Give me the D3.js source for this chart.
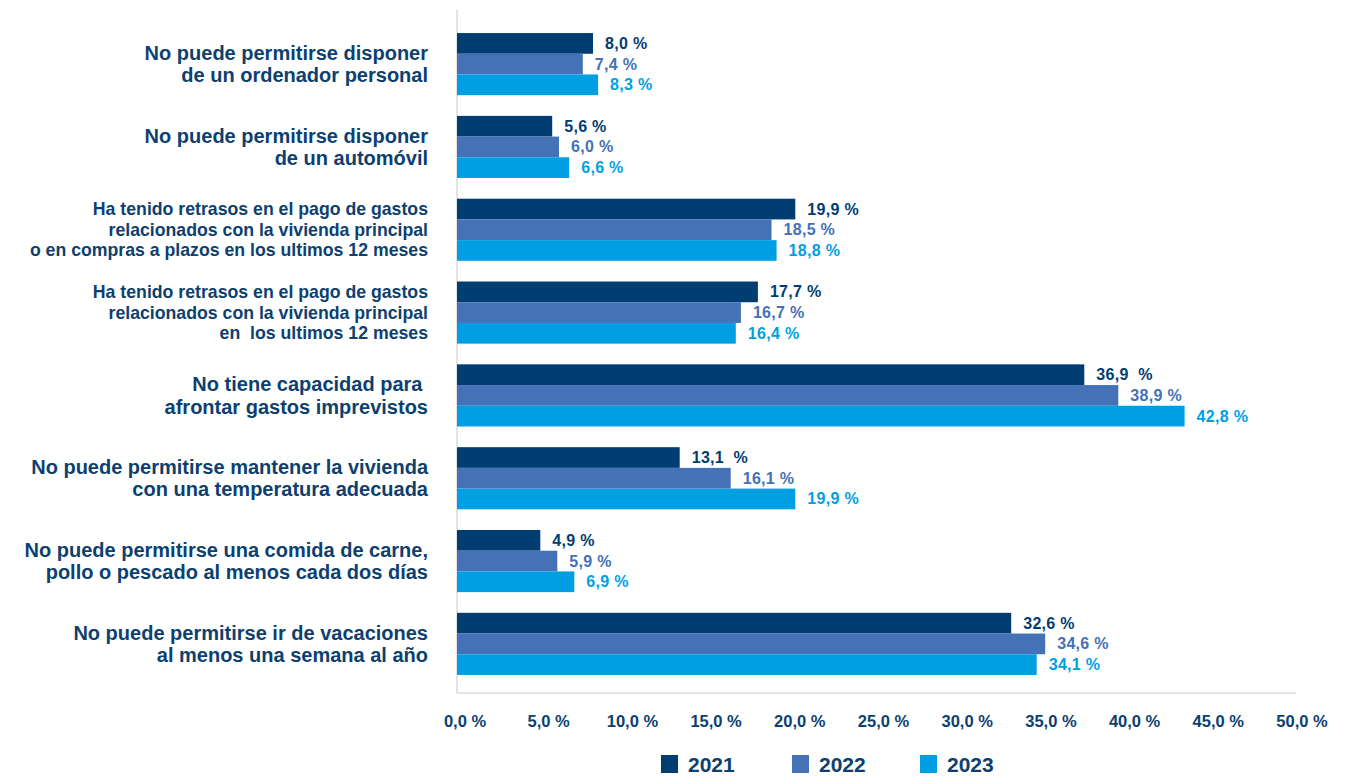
<!DOCTYPE html>
<html lang="es">
<head>
<meta charset="UTF-8">
<title>Carencia material</title>
<script src="https://d3js.org/d3.v7.min.js"></script>
<style>
    body { margin: 0; background: #fff; }
    .cat { font-family: "Liberation Sans", Arial, sans-serif; font-weight: bold; fill: #0d3f6f; }
    .val { font-family: "Liberation Sans", Arial, sans-serif; font-weight: bold; font-size: 16px; letter-spacing: 0.3px; }
    .tick-label { font-family: "Liberation Sans", Arial, sans-serif; font-weight: bold; font-size: 16.5px; fill: #0d3f6f; }
    .legend-label { font-family: "Liberation Sans", Arial, sans-serif; font-weight: bold; font-size: 21px; fill: #0d3f6f; }
</style>
</head>
<body>
<div id="chart"></div>
<script>
const categories = [
    ["No puede permitirse disponer", "de un ordenador personal"],
    ["No puede permitirse disponer", "de un automóvil"],
    ["Ha tenido retrasos en el pago de gastos", "relacionados con la vivienda principal", "o en compras a plazos en los ultimos 12 meses"],
    ["Ha tenido retrasos en el pago de gastos", "relacionados con la vivienda principal", "en  los ultimos 12 meses"],
    ["No tiene capacidad para ", "afrontar gastos imprevistos"],
    ["No puede permitirse mantener la vivienda", "con una temperatura adecuada"],
    ["No puede permitirse una comida de carne,", "pollo o pescado al menos cada dos días"],
    ["No puede permitirse ir de vacaciones", "al menos una semana al año"]
];
const years = ["2021", "2022", "2023"];
const values2021 = [8.0, 5.6, 19.9, 17.7, 36.9, 13.1, 4.9, 32.6];
const values2022 = [7.4, 6.0, 18.5, 16.7, 38.9, 16.1, 5.9, 34.6];
const values2023 = [8.3, 6.6, 18.8, 16.4, 42.8, 19.9, 6.9, 34.1];
const labels2021 = ["8,0 %", "5,6 %", "19,9 %", "17,7 %", "36,9  %", "13,1  %", "4,9 %", "32,6 %"];
const labels2022 = ["7,4 %", "6,0 %", "18,5 %", "16,7 %", "38,9 %", "16,1 %", "5,9 %", "34,6 %"];
const labels2023 = ["8,3 %", "6,6 %", "18,8 %", "16,4 %", "42,8 %", "19,9 %", "6,9 %", "34,1 %"];
const tickValues = [0, 5, 10, 15, 20, 25, 30, 35, 40, 45, 50];
const tickLabels = ["0,0 %", "5,0 %", "10,0 %", "15,0 %", "20,0 %", "25,0 %", "30,0 %", "35,0 %", "40,0 %", "45,0 %", "50,0 %"];

const colors = ["#003d73", "#4571b6", "#009fe3"];
const seriesValues = [values2021, values2022, values2023];
const seriesLabels = [labels2021, labels2022, labels2023];

const width = 1363, height = 776;
const svg = d3.select("#chart").append("svg")
    .attr("width", width)
    .attr("height", height);

const x = d3.scaleLinear().domain([0, 50]).range([457, 1307]);
// tick labels sit on a slightly tighter spacing than the bars in the original
const xTick = d3.scaleLinear().domain([0, 50]).range([465, 1302]);

const y = d3.scaleBand()
    .domain(d3.range(categories.length))
    .range([22.7, 685.3])
    .paddingInner(0.25)
    .paddingOuter(0.125);

const ySub = d3.scaleBand()
    .domain(d3.range(years.length))
    .range([0, y.bandwidth()]);

// axis lines
svg.append("line")
    .attr("x1", x(0)).attr("x2", x(0))
    .attr("y1", 10).attr("y2", 693)
    .attr("stroke", "#c8c8c8").attr("stroke-width", 1);
svg.append("line")
    .attr("x1", x(0)).attr("x2", 1296)
    .attr("y1", 693).attr("y2", 693)
    .attr("stroke", "#c8c8c8").attr("stroke-width", 1);

// bars
const groups = svg.selectAll(".group")
    .data(categories)
    .enter().append("g")
    .attr("class", "group")
    .attr("transform", (d, i) => `translate(0,${y(i)})`);

years.forEach((yr, s) => {
    groups.append("rect")
        .attr("x", x(0))
        .attr("y", ySub(s))
        .attr("width", (d, i) => x(seriesValues[s][i]) - x(0))
        .attr("height", ySub.bandwidth())
        .attr("fill", colors[s]);

    groups.append("text")
        .attr("class", "val")
        .attr("x", (d, i) => x(seriesValues[s][i]) + 12)
        .attr("y", ySub(s) + ySub.bandwidth() / 2)
        .attr("dominant-baseline", "central")
        .attr("fill", colors[s])
        .style("white-space", "pre")
        .text((d, i) => seriesLabels[s][i]);
});

// category labels
groups.each(function (lines) {
    const g = d3.select(this);
    const three = lines.length === 3;
    const fs = three ? 17.7 : 20;
    const lh = three ? 20.5 : 22.5;
    const mid = y.bandwidth() / 2;
    const t = g.append("text")
        .attr("class", "cat")
        .attr("text-anchor", "end")
        .attr("font-size", fs + "px")
        .style("white-space", "pre");
    lines.forEach((line, k) => {
        t.append("tspan")
            .attr("x", 428)
            .attr("y", mid + (k - (lines.length - 1) / 2) * lh)
            .attr("dominant-baseline", "central")
            .text(line);
    });
});

// x tick labels
svg.selectAll(".tick-label")
    .data(tickValues)
    .enter().append("text")
    .attr("class", "tick-label")
    .attr("x", d => xTick(d))
    .attr("y", 721)
    .attr("text-anchor", "middle")
    .attr("dominant-baseline", "central")
    .text((d, i) => tickLabels[i]);

// legend
const legendX = [661, 792, 920];
const legend = svg.selectAll(".legend")
    .data(years)
    .enter().append("g")
    .attr("class", "legend")
    .attr("transform", (d, i) => `translate(${legendX[i]},755)`);
legend.append("rect")
    .attr("width", 17).attr("height", 18)
    .attr("fill", (d, i) => colors[i]);
legend.append("text")
    .attr("class", "legend-label")
    .attr("x", 27)
    .attr("y", 9.5)
    .attr("dominant-baseline", "central")
    .text(d => d);
</script>
</body>
</html>
